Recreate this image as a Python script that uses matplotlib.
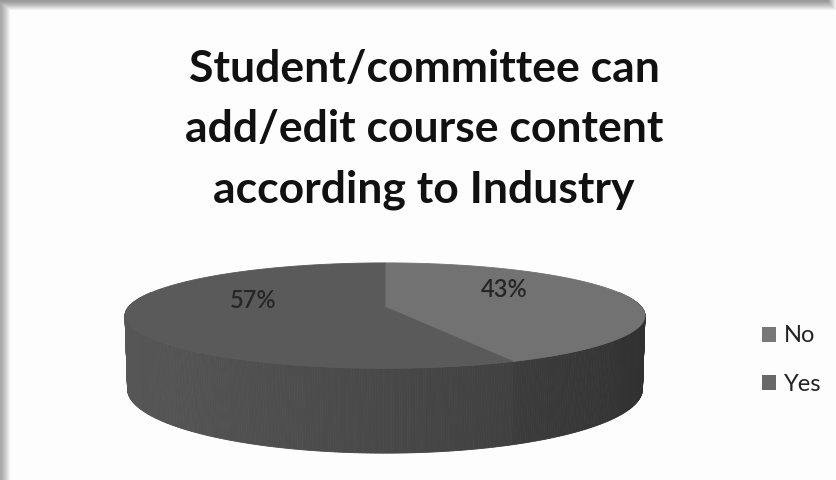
import numpy as np
import matplotlib
matplotlib.use("Agg")
import matplotlib.pyplot as plt
from matplotlib.patches import Polygon, Patch

# ---- data ----
categories = ["No", "Yes"]
values = [43, 57]
title_lines = ["Student/committee can", "add/edit course content", "according to Industry"]

top_colors = ["#727272", "#5a5a5a"]
legend_colors = ["#787878", "#686868"]
side_factor = [0.94, 1.0]

W, H = 836, 480
fig = plt.figure(figsize=(W / 100, H / 100), dpi=100)
fig.patch.set_facecolor("white")

# panel with a soft shadow along the top and left edges
yy, xx = np.mgrid[0:H, 0:W].astype(float)
top = np.clip(yy / 10.0, 0, 1)
left = np.clip(xx / 10.0, 0, 1)
g_top = 0.60 + 0.40 * top ** 1.3
g_top = np.maximum(g_top, np.clip((xx - 815) / 21.0, 0, 1))
g_left = 0.66 + 0.34 * left ** 1.3
shade = np.minimum(g_top, g_left)
shade = np.where((yy >= 10) & (xx >= 10), 0.995, shade)
fig.figimage(np.dstack([shade] * 3), xo=0, yo=0, origin="upper", zorder=0)

ax = fig.add_axes([0, 0, 1, 1], zorder=1)
ax.set_xlim(0, W)
ax.set_ylim(H, 0)
ax.axis("off")
ax.patch.set_alpha(0)

# ---- 3D pie with a simple perspective projection ----
alpha = np.arcsin(0.2)       # viewing elevation
dist = 6.0                   # camera distance (in radii)
thick = 0.288                # pie thickness (in radii)
cx, cy = 385, 307            # screen position of pie centre
ca, sa = np.cos(alpha), np.sin(alpha)


def proj_uv(X, Y, Z):
    d = dist + Y * ca - Z * sa
    return X / d, (Y * sa + Z * ca) / d


phi_all = np.linspace(0, 2 * np.pi, 3601)
u_all, _ = proj_uv(np.sin(phi_all), np.cos(phi_all), 0.0)
scale = 260.0 / u_all.max()


def proj(X, Y, Z):
    u, v = proj_uv(X, Y, Z)
    return cx + scale * u, cy - scale * v


total = float(sum(values))
fractions = [v / total for v in values]
starts = np.concatenate([[0], np.cumsum(fractions)[:-1]]) * 2 * np.pi
ends = np.cumsum(fractions) * 2 * np.pi

# side walls: small quads, painted back to front
quads = []
for i, (a, b) in enumerate(zip(starts, ends)):
    n = max(int(np.degrees(b - a) * 2), 2)
    ph = np.linspace(a, b, n + 1)
    for p1, p2 in zip(ph[:-1], ph[1:]):
        pm = 0.5 * (p1 + p2)
        X, Y = np.sin(pm), np.cos(pm)
        if Y > 0.3:
            continue
        pts = [proj(np.sin(p1), np.cos(p1), 0), proj(np.sin(p2), np.cos(p2), 0),
               proj(np.sin(p2), np.cos(p2), -thick), proj(np.sin(p1), np.cos(p1), -thick)]
        L = (72 - 18 * X - 3 * X * X) * side_factor[i] / 255.0
        L = min(max(L, 0), 1)
        depth = dist + Y * ca
        quads.append((depth, pts, (L, L, L)))
for depth, pts, col in sorted(quads, key=lambda q: -q[0]):
    ax.add_patch(Polygon(pts, closed=True, facecolor=col, edgecolor=col,
                         linewidth=0.6, zorder=2))

# top faces
for i, (a, b) in enumerate(zip(starts, ends)):
    ph = np.linspace(a, b, 400)
    pts = [proj(0, 0, 0)] + [proj(np.sin(p), np.cos(p), 0) for p in ph]
    ax.add_patch(Polygon(pts, closed=True, facecolor=top_colors[i],
                         edgecolor=top_colors[i], linewidth=0.6, zorder=3))

# percentage labels
for i, (a, b) in enumerate(zip(starts, ends)):
    m = 0.5 * (a + b)
    x, y = proj(0.5 * np.sin(m), 0.5 * np.cos(m), 0)
    ax.text(x - 4, y - 1, f"{fractions[i]:.0%}", ha="center", va="bottom",
            fontsize=17, family="Lato", fontweight="semibold",
            color="#262626", zorder=5)

# title, one line per row
for k, line in enumerate(title_lines):
    ax.text(424, 82 + 60 * k, line, ha="center", va="baseline", fontsize=32,
            family="Lato", fontweight="bold", color="#111111", zorder=5)

# legend
handles = [Patch(facecolor=c, edgecolor="none") for c in legend_colors]
leg = fig.legend(handles, categories, loc="center left",
                 bbox_to_anchor=(741 / W, 1 - 360 / H), frameon=False,
                 prop={"family": "Lato", "size": 17}, handlelength=0.6,
                 handleheight=0.6, handletextpad=0.3, labelspacing=1.15,
                 labelcolor="#222222")
leg.set_zorder(2)

fig.savefig("out.png", dpi=100)
